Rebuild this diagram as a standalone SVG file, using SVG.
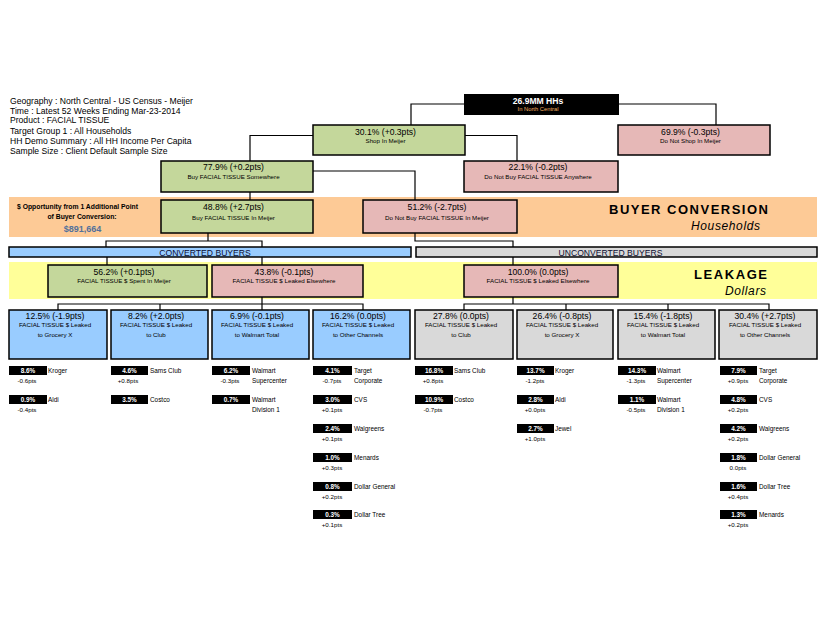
<svg xmlns="http://www.w3.org/2000/svg" width="825" height="638" viewBox="0 0 825 638">
<style>
text{font-family:"Liberation Sans",Arial,sans-serif;fill:#000}
.hdr{font-size:8.6px}
.t{font-size:8.6px;text-anchor:middle}
.s{font-size:6.2px;text-anchor:middle}
.box{stroke:#000;stroke-width:1.5}
.g{fill:#c4d79b}.p{fill:#e6b8b7}.b{fill:#99ccff}.gr{fill:#d9d9d9}
.con{fill:none;stroke:#000;stroke-width:1.2}
.lb{fill:#000}
.lt{font-size:6.4px;font-weight:bold;fill:#fff;text-anchor:middle}
.nm{font-size:6.4px}
.dl{font-size:6.2px;text-anchor:middle}
.bar{font-size:8.6px;text-anchor:middle;fill:#0d0d33}
.big{font-size:13px;font-weight:bold}
.it{font-size:12px;font-style:italic}
</style>
<rect x="9" y="197" width="808" height="40" fill="#fdca96"/>
<rect x="9" y="262" width="808" height="37" fill="#ffff99"/>
<g id="header">
<text class="hdr" x="10" y="103.7">Geography : North Central - US Census - Meijer</text>
<text class="hdr" x="10" y="113.7">Time : Latest 52 Weeks Ending Mar-23-2014</text>
<text class="hdr" x="10" y="123.4">Product : FACIAL TISSUE</text>
<text class="hdr" x="10" y="133.7">Target Group 1 : All Households</text>
<text class="hdr" x="10" y="143.7">HH Demo Summary : All HH Income Per Capita</text>
<text class="hdr" x="10" y="153.7">Sample Size : Client Default Sample Size</text>
</g>
<g id="connectors">
<path class="con" d="M464,104H411V125M619,104H716V125"/>
<path class="con" d="M313,135.5H250V161M465,135.5H517V161"/>
<path class="con" d="M313,171H415V200M250,192V200"/>
<path class="con" d="M208,233V241M106,247V241H262V247"/>
<path class="con" d="M415,233V241H513V247"/>
<path class="con" d="M107,257V265M262,257V265M513,257V265"/>
<path class="con" d="M262,297V310M58,310V304H363V310M160,304V310"/>
<path class="con" d="M513,297V304M464,310V304H769V310M566,304V310M668,304V310"/>
</g>
<g id="n-total">
<rect x="464" y="94" width="155" height="21" fill="#000"/>
<text x="538" y="104" font-size="8.6" font-weight="bold" text-anchor="middle" style="fill:#fff">26.9MM HHs</text>
<text x="538" y="111" font-size="5.8" text-anchor="middle" style="fill:#f5b060">In North Central</text>
</g>
<g id="n-shop">
<rect class="box g" x="313" y="125" width="152" height="30"/>
<text class="t" x="385.5" y="135">30.1% (+0.3pts)</text>
<text class="s" x="385.5" y="142.5">Shop In Meijer</text>
</g>
<g id="n-noshop">
<rect class="box p" x="618" y="125" width="152" height="30"/>
<text class="t" x="690.5" y="135">69.9% (-0.3pts)</text>
<text class="s" x="690.5" y="142.5">Do Not Shop In Meijer</text>
</g>
<g id="n-buysome">
<rect class="box g" x="161" y="161" width="152" height="31"/>
<text class="t" x="233.5" y="169.5">77.9% (+0.2pts)</text>
<text class="s" x="233.5" y="179">Buy FACIAL TISSUE Somewhere</text>
</g>
<g id="n-nobuyany">
<rect class="box p" x="464" y="161" width="154" height="31"/>
<text class="t" x="538" y="169.5">22.1% (-0.2pts)</text>
<text class="s" x="538" y="179">Do Not Buy FACIAL TISSUE Anywhere</text>
</g>
<g id="opportunity">
<text x="77.5" y="208.5" font-size="6.8" font-weight="bold" text-anchor="middle">$ Opportunity from 1 Additional Point</text>
<text x="82" y="218.5" font-size="6.8" font-weight="bold" text-anchor="middle">of Buyer Conversion:</text>
<text x="82.5" y="231.5" font-size="9" font-weight="bold" text-anchor="middle" style="fill:#52709b">$891,664</text>
</g>
<g id="n-buymeijer">
<rect class="box g" x="161" y="200" width="152" height="33"/>
<text class="t" x="233.5" y="210">48.8% (+2.7pts)</text>
<text class="s" x="233.5" y="219.5">Buy FACIAL TISSUE In Meijer</text>
</g>
<g id="n-nobuymeijer">
<rect class="box p" x="363" y="200" width="154" height="33"/>
<text class="t" x="437" y="210">51.2% (-2.7pts)</text>
<text class="s" x="437" y="219.5">Do Not Buy FACIAL TISSUE In Meijer</text>
</g>
<g id="title-buyer">
<text class="big" x="609" y="214" textLength="159" lengthAdjust="spacing">BUYER CONVERSION</text>
<text class="it" x="691" y="230" textLength="69" lengthAdjust="spacing">Households</text>
</g>
<g id="bar-converted">
<rect class="box b" x="9" y="247" width="402" height="10" stroke-width="1.2"/>
<text class="bar" x="205" y="255.5">CONVERTED BUYERS</text>
</g>
<g id="bar-unconverted">
<rect class="box gr" x="416" y="247" width="401" height="10" stroke-width="1.2"/>
<text class="bar" x="610.5" y="255.5">UNCONVERTED BUYERS</text>
</g>
<g id="n-spent">
<rect class="box g" x="48" y="265" width="159" height="32"/>
<text class="t" x="124" y="275">56.2% (+0.1pts)</text>
<text class="s" x="124" y="283">FACIAL TISSUE $ Spent In Meijer</text>
</g>
<g id="n-leaked-conv">
<rect class="box p" x="212" y="265" width="151" height="32"/>
<text class="t" x="284" y="275">43.8% (-0.1pts)</text>
<text class="s" x="284" y="283">FACIAL TISSUE $ Leaked Elsewhere</text>
</g>
<g id="n-leaked-unconv">
<rect class="box p" x="464" y="265" width="154" height="32"/>
<text class="t" x="538" y="275">100.0% (0.0pts)</text>
<text class="s" x="538" y="283">FACIAL TISSUE $ Leaked Elsewhere</text>
</g>
<g id="title-leakage">
<text class="big" x="694" y="279" textLength="73" lengthAdjust="spacing">LEAKAGE</text>
<text class="it" x="725" y="295" textLength="41" lengthAdjust="spacing">Dollars</text>
</g>
<g id="n-c-grocery">
<rect class="box b" x="9" y="310" width="98" height="49"/>
<text class="t" x="55" y="318.5">12.5% (-1.9pts)</text>
<text class="s" x="55" y="326.5">FACIAL TISSUE $ Leaked</text>
<text class="s" x="55" y="337">to Grocery X</text>
</g>
<g id="n-c-club">
<rect class="box b" x="111" y="310" width="97" height="49"/>
<text class="t" x="156" y="318.5">8.2% (+2.0pts)</text>
<text class="s" x="156" y="326.5">FACIAL TISSUE $ Leaked</text>
<text class="s" x="156" y="337">to Club</text>
</g>
<g id="n-c-walmart">
<rect class="box b" x="212" y="310" width="97" height="49"/>
<text class="t" x="257" y="318.5">6.9% (-0.1pts)</text>
<text class="s" x="257" y="326.5">FACIAL TISSUE $ Leaked</text>
<text class="s" x="257" y="337">to Walmart Total</text>
</g>
<g id="n-c-other">
<rect class="box b" x="313" y="310" width="97" height="49"/>
<text class="t" x="358" y="318.5">16.2% (0.0pts)</text>
<text class="s" x="358" y="326.5">FACIAL TISSUE $ Leaked</text>
<text class="s" x="358" y="337">to Other Channels</text>
</g>
<g id="n-u-club">
<rect class="box gr" x="415" y="310" width="98" height="49"/>
<text class="t" x="461" y="318.5">27.8% (0.0pts)</text>
<text class="s" x="461" y="326.5">FACIAL TISSUE $ Leaked</text>
<text class="s" x="461" y="337">to Club</text>
</g>
<g id="n-u-grocery">
<rect class="box gr" x="517" y="310" width="96" height="49"/>
<text class="t" x="562" y="318.5">26.4% (-0.8pts)</text>
<text class="s" x="562" y="326.5">FACIAL TISSUE $ Leaked</text>
<text class="s" x="562" y="337">to Grocery X</text>
</g>
<g id="n-u-walmart">
<rect class="box gr" x="618" y="310" width="97" height="49"/>
<text class="t" x="663" y="318.5">15.4% (-1.8pts)</text>
<text class="s" x="663" y="326.5">FACIAL TISSUE $ Leaked</text>
<text class="s" x="663" y="337">to Walmart Total</text>
</g>
<g id="n-u-other">
<rect class="box gr" x="719" y="310" width="98" height="49"/>
<text class="t" x="765" y="318.5">30.4% (+2.7pts)</text>
<text class="s" x="765" y="326.5">FACIAL TISSUE $ Leaked</text>
<text class="s" x="765" y="337">to Other Channels</text>
</g>
<g id="labels-c-grocery">
<rect class="lb" x="9" y="366" width="38" height="9"/><text class="lt" x="28" y="373">8.6%</text><text class="nm" x="48" y="373">Kroger</text><text class="dl" x="27" y="382.5">-0.6pts</text>
<rect class="lb" x="9" y="395" width="38" height="9"/><text class="lt" x="28" y="402">0.9%</text><text class="nm" x="48" y="402">Aldi</text><text class="dl" x="27" y="411.5">-0.4pts</text>
</g>
<g id="labels-c-club">
<rect class="lb" x="111" y="366" width="37" height="9"/><text class="lt" x="129.5" y="373">4.6%</text><text class="nm" x="150" y="373">Sams Club</text><text class="dl" x="128" y="382.5">+0.8pts</text>
<rect class="lb" x="111" y="395" width="37" height="9"/><text class="lt" x="129.5" y="402">3.5%</text><text class="nm" x="150" y="402">Costco</text>
</g>
<g id="labels-c-walmart">
<rect class="lb" x="212" y="366" width="38" height="9"/><text class="lt" x="231" y="373">6.2%</text><text class="nm" x="252" y="373">Walmart</text><text class="nm" x="252" y="383">Supercenter</text><text class="dl" x="230" y="382.5">-0.3pts</text>
<rect class="lb" x="212" y="395" width="38" height="9"/><text class="lt" x="231" y="402">0.7%</text><text class="nm" x="252" y="402">Walmart</text><text class="nm" x="252" y="412">Division 1</text>
</g>
<g id="labels-c-other">
<rect class="lb" x="313" y="366" width="39" height="9"/><text class="lt" x="332.5" y="373">4.1%</text><text class="nm" x="354" y="373">Target</text><text class="nm" x="354" y="383">Corporate</text><text class="dl" x="332" y="382.5">-0.7pts</text>
<rect class="lb" x="313" y="395" width="39" height="9"/><text class="lt" x="332.5" y="402">3.0%</text><text class="nm" x="354" y="402">CVS</text><text class="dl" x="332" y="411.5">+0.1pts</text>
<rect class="lb" x="313" y="424" width="39" height="9"/><text class="lt" x="332.5" y="431">2.4%</text><text class="nm" x="354" y="431">Walgreens</text><text class="dl" x="332" y="440.5">+0.1pts</text>
<rect class="lb" x="313" y="453" width="39" height="9"/><text class="lt" x="332.5" y="460">1.0%</text><text class="nm" x="354" y="460">Menards</text><text class="dl" x="332" y="469.5">+0.3pts</text>
<rect class="lb" x="313" y="482" width="39" height="9"/><text class="lt" x="332.5" y="489">0.8%</text><text class="nm" x="354" y="489">Dollar General</text><text class="dl" x="332" y="498.5">+0.2pts</text>
<rect class="lb" x="313" y="510" width="39" height="9"/><text class="lt" x="332.5" y="517">0.3%</text><text class="nm" x="354" y="517">Dollar Tree</text><text class="dl" x="332" y="526.5">+0.1pts</text>
</g>
<g id="labels-u-club">
<rect class="lb" x="415" y="366" width="38" height="9"/><text class="lt" x="434" y="373">16.8%</text><text class="nm" x="454" y="373">Sams Club</text><text class="dl" x="433" y="382.5">+0.8pts</text>
<rect class="lb" x="415" y="395" width="38" height="9"/><text class="lt" x="434" y="402">10.9%</text><text class="nm" x="454" y="402">Costco</text><text class="dl" x="433" y="411.5">-0.7pts</text>
</g>
<g id="labels-u-grocery">
<rect class="lb" x="517" y="366" width="37" height="9"/><text class="lt" x="535.5" y="373">13.7%</text><text class="nm" x="555" y="373">Kroger</text><text class="dl" x="535" y="382.5">-1.2pts</text>
<rect class="lb" x="517" y="395" width="37" height="9"/><text class="lt" x="535.5" y="402">2.8%</text><text class="nm" x="555" y="402">Aldi</text><text class="dl" x="535" y="411.5">+0.0pts</text>
<rect class="lb" x="517" y="424" width="37" height="9"/><text class="lt" x="535.5" y="431">2.7%</text><text class="nm" x="555" y="431">Jewel</text><text class="dl" x="535" y="440.5">+1.0pts</text>
</g>
<g id="labels-u-walmart">
<rect class="lb" x="618" y="366" width="38" height="9"/><text class="lt" x="637" y="373">14.3%</text><text class="nm" x="657" y="373">Walmart</text><text class="nm" x="657" y="383">Supercenter</text><text class="dl" x="636" y="382.5">-1.3pts</text>
<rect class="lb" x="618" y="395" width="38" height="9"/><text class="lt" x="637" y="402">1.1%</text><text class="nm" x="657" y="402">Walmart</text><text class="nm" x="657" y="412">Division 1</text><text class="dl" x="636" y="411.5">-0.5pts</text>
</g>
<g id="labels-u-other">
<rect class="lb" x="720" y="366" width="37" height="9"/><text class="lt" x="738.5" y="373">7.9%</text><text class="nm" x="759" y="373">Target</text><text class="nm" x="759" y="383">Corporate</text><text class="dl" x="738" y="382.5">+0.9pts</text>
<rect class="lb" x="720" y="395" width="37" height="9"/><text class="lt" x="738.5" y="402">4.8%</text><text class="nm" x="759" y="402">CVS</text><text class="dl" x="738" y="411.5">+0.2pts</text>
<rect class="lb" x="720" y="424" width="37" height="9"/><text class="lt" x="738.5" y="431">4.2%</text><text class="nm" x="759" y="431">Walgreens</text><text class="dl" x="738" y="440.5">+0.2pts</text>
<rect class="lb" x="720" y="453" width="37" height="9"/><text class="lt" x="738.5" y="460">1.8%</text><text class="nm" x="759" y="460">Dollar General</text><text class="dl" x="738" y="469.5">0.0pts</text>
<rect class="lb" x="720" y="482" width="37" height="9"/><text class="lt" x="738.5" y="489">1.6%</text><text class="nm" x="759" y="489">Dollar Tree</text><text class="dl" x="738" y="498.5">+0.4pts</text>
<rect class="lb" x="720" y="510" width="37" height="9"/><text class="lt" x="738.5" y="517">1.3%</text><text class="nm" x="759" y="517">Menards</text><text class="dl" x="738" y="526.5">+0.2pts</text>
</g>
</svg>
